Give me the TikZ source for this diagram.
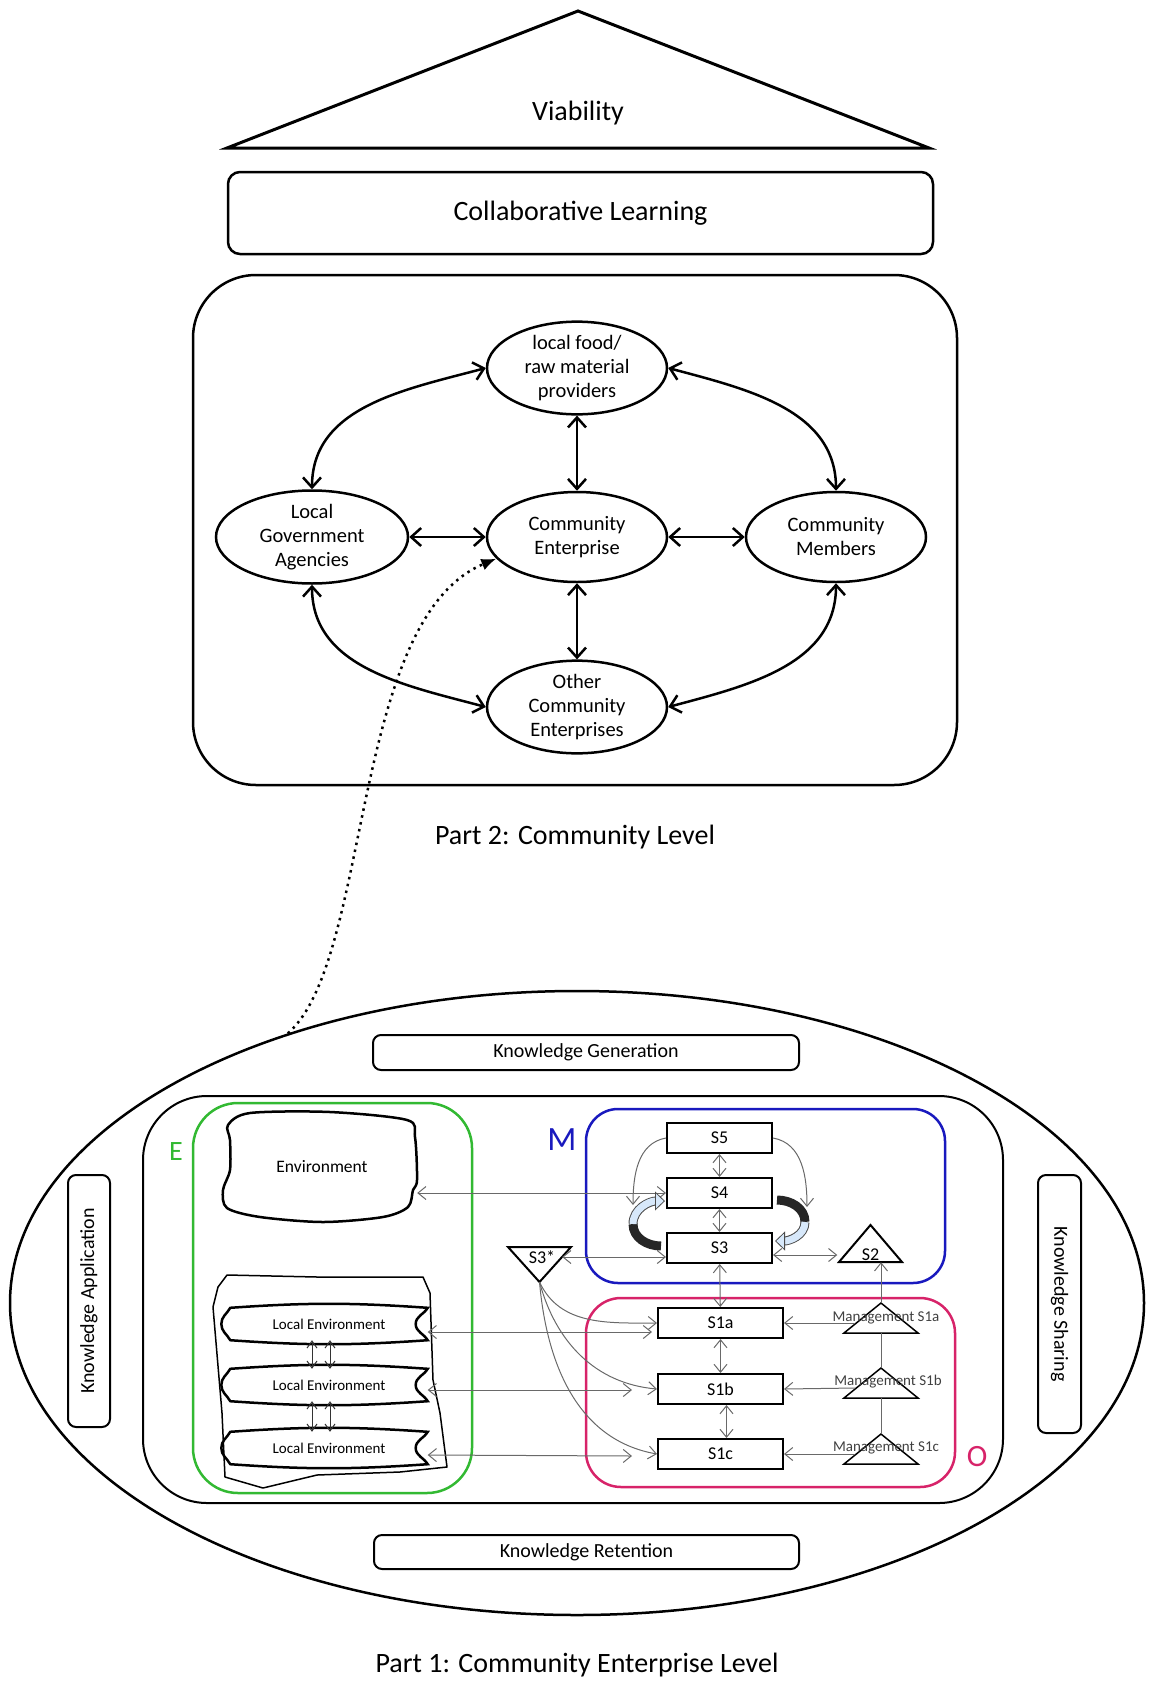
\documentclass[tikz,border=0pt]{standalone}
\usepackage{fontspec}
\setmainfont{Carlito}
\usepackage{tikz}
\usetikzlibrary{arrows.meta}
\usetikzlibrary{calc}
\usetikzlibrary{shapes.geometric}
\usepackage{xcolor}
\definecolor{egreen}{RGB}{50,185,50}
\definecolor{mblue}{RGB}{25,25,190}
\definecolor{opink}{RGB}{215,35,105}
\definecolor{flowblue}{RGB}{215,232,250}
\definecolor{linkgray}{RGB}{105,105,105}

\begin{document}
\begin{tikzpicture}[x=1pt,y=1pt,
    bigtext/.style={font=\fontsize{28}{34}\selectfont},
    party/.style={ellipse,draw,line width=2.5pt,minimum width=180pt,minimum height=90pt,
      inner sep=0pt,align=center,font=\fontsize{20.5}{24}\selectfont},
    twoway/.style={line width=2.5pt,{Straight Barb[length=10pt,width=18pt]}-{Straight Barb[length=10pt,width=18pt]}},
    kbox/.style={draw,rounded corners=8pt,line width=2pt,inner sep=0pt,font=\fontsize{20}{24}\selectfont},
    sbox/.style={draw,line width=2pt,minimum width=105pt,minimum height=30pt,inner sep=0pt,
      font=\fontsize{18}{20}\selectfont},
    mgmt/.style={inner sep=0pt,text=black!75,font=\fontsize{15}{18}\selectfont},
    twothin/.style={linkgray,line width=1pt,{Straight Barb[length=8pt,width=13pt]}-{Straight Barb[length=8pt,width=13pt]}},
    flowto/.style={linkgray,line width=1pt,-{Straight Barb[length=8pt,width=13pt]}},
    small/.style={black!80,line width=1pt,{Straight Barb[length=7pt,width=10pt]}-{Straight Barb[length=7pt,width=10pt]}},
    swirlhead/.style={line width=7pt,flowblue,
      -{Triangle[length=10pt,width=19pt,line width=0.8pt,color=black!70,fill=flowblue]}}]

    \useasboundingbox (0,0) rectangle (1149,-1686);

    % Roof and learning bar
    \draw[line width=3pt] (227,-148) -- (578,-11) -- (929,-148) -- cycle;
    \node[bigtext] (viab) at (578,-113) {Viability};
    \node[kbox,bigtext,rounded corners=12pt,line width=2.5pt,minimum width=705pt,minimum height=82pt]
      (collab) at (580.5,-213) {Collaborative Learning};

    % Part 2: community level
    \draw[line width=2.5pt,rounded corners=63pt] (193,-275) rectangle (957,-785);
    \node[party] (food) at (577,-368) {local food/\\raw material\\providers};
    \node[party,minimum width=192pt] (gov) at (312,-537) {Local\\Government\\Agencies};
    \node[party] (ce) at (577,-537) {Community\\Enterprise};
    \node[party] (mem) at (836,-537) {Community\\Members};
    \node[party] (oce) at (577,-707) {Other\\Community\\Enterprises};

    \draw[twoway] (gov) -- (ce);
    \draw[twoway] (ce) -- (mem);
    \draw[twoway] (food) -- (ce);
    \draw[twoway] (ce) -- (oce);
    \draw[twoway] (food.west) to[out=195,in=90] (gov.north);
    \draw[twoway] (food.east) to[out=-15,in=90] (mem.north);
    \draw[twoway] (gov.south) to[out=-90,in=165] (oce.west);
    \draw[twoway] (mem.south) to[out=-90,in=15] (oce.east);

    \node[bigtext] (part2) at (575,-837) {Part 2: Community Level};

    % Part 1: community enterprise level
    \node[draw,ellipse,line width=2.5pt,minimum width=1134pt,minimum height=624pt] (cel) at (577,-1303) {};
    \draw[line width=2pt,rounded corners=64pt] (143,-1096) rectangle (1003,-1503);
    \node[kbox,minimum width=426pt,minimum height=35pt] (kgen) at (586,-1052.5) {Knowledge Generation};
    \node[kbox,minimum width=425pt,minimum height=34pt] (kret) at (586.5,-1552) {Knowledge Retention};
    \node[kbox,rotate=90,minimum width=252pt,minimum height=42pt] (kapp) at (89,-1301) {Knowledge Application};
    \node[kbox,rotate=-90,minimum width=258pt,minimum height=43pt] (kshare) at (1059.5,-1304) {Knowledge Sharing};

    \draw[line width=2.5pt,dash pattern=on 2.5pt off 4.5pt,-{Latex[length=15pt,width=12pt]}]
      (cel.137) .. controls (372,-960) and (350,-620) .. (ce.195);

    % E: environment
    \draw[egreen,line width=2.5pt,rounded corners=45pt] (193,-1103) rectangle (472,-1493);
    \node[egreen,font=\fontsize{28}{30}\selectfont] (elab) at (176,-1152) {E};
    \node[minimum width=190pt,minimum height=105pt,font=\fontsize{17.5}{20}\selectfont] (env) at (322,-1167) {Environment};
    \draw[line width=2.5pt] plot[smooth cycle,tension=0.5] coordinates {(228,-1125) (250,-1113) (330,-1112)
      (407,-1120) (415,-1137) (417,-1180) (413,-1190) (408,-1207) (383,-1217) (323,-1222) (260,-1217)
      (227,-1208) (223,-1190) (230,-1170) (230,-1140)};
    \draw[line width=1.5pt,line join=round] (218,-1287) -- (227,-1275) -- (317,-1277) -- (423,-1277)
      -- (430,-1293) -- (433,-1380) -- (440,-1413) -- (447,-1467) -- (400,-1472) -- (317,-1475)
      -- (263,-1488) -- (225,-1477) -- (222,-1413) -- (213,-1307) -- cycle;
    \foreach \n/\y in {1/1324,2/1385,3/1448}{
      \node[minimum width=197pt,minimum height=32pt,inner sep=0pt,font=\fontsize{15}{18}\selectfont]
        (loc\n) at (329,-\y) {Local Environment};
      \draw[line width=2.5pt] (loc\n.north west) to[bend left=4] (loc\n.north east)
        to[out=-120,in=90] ([xshift=-12pt]loc\n.east) to[out=-90,in=120] (loc\n.south east)
        to[bend left=4] (loc\n.south west)
        to[out=120,in=-90] ([xshift=-9pt]loc\n.west) to[out=90,in=-120] (loc\n.north west) -- cycle;
    }
    \foreach \a/\b in {loc1/loc2,loc2/loc3}{
      \draw[small] ([xshift=-17pt]\a.south) -- ([xshift=-17pt]\b.north);
      \draw[small] ([xshift=1pt]\a.south) -- ([xshift=1pt]\b.north);
    }

    % M: metasystem
    \draw[mblue,line width=2.5pt,rounded corners=32pt] (586,-1109) rectangle (945,-1283);
    \node[mblue,font=\fontsize{34}{36}\selectfont] (mlab) at (562,-1140) {M};
    \node[sbox] (s5) at (719.5,-1138) {S5};
    \node[sbox] (s4) at (719.5,-1193) {S4};
    \node[sbox] (s3) at (719.5,-1248) {S3};

    \draw[line width=2pt] (839,-1262) -- (870.5,-1225) -- (902,-1262) -- cycle;
    \node[inner sep=0pt,minimum width=66pt,minimum height=14pt,font=\fontsize{18}{20}\selectfont] (s2) at (870.5,-1255) {S2};
    \draw[line width=2pt] (508,-1247) -- (571,-1247) -- (539.5,-1282) -- cycle;
    \node[inner sep=0pt,minimum width=40pt,minimum height=14pt,font=\fontsize{18}{20}\selectfont] (s3star) at (542,-1257) {S3*};
    \coordinate (s3tip) at (539.5,-1282);

    % O: operations
    \draw[opink,line width=2.5pt,rounded corners=35pt] (586,-1298) rectangle (955,-1487);
    \node[opink,font=\fontsize{31}{34}\selectfont] (olab) at (977,-1457) {O};
    \node[sbox,minimum width=125pt] (s1a) at (720.5,-1323) {S1a};
    \node[sbox,minimum width=125pt] (s1b) at (720.5,-1389) {S1b};
    \node[sbox,minimum width=125pt] (s1c) at (720.5,-1454) {S1c};

    \foreach \n/\y in {a/1303,b/1368,c/1434}{
      \draw[line width=1.5pt] (881,-\y) -- ++(37,-30) -- ++(-74,0) -- cycle;
      \coordinate (top\n) at (881,-\y);
      \coordinate (base\n) at (881,-\y-30);
      \coordinate (edge\n) at (855,-\y-20);
    }
    \node[mgmt] (mga) at (886,-1318) {Management S1a};
    \node[mgmt] (mgb) at (888,-1382) {Management S1b};
    \node[mgmt] (mgc) at (886,-1448) {Management S1c};

    % Links inside the enterprise
    \draw[twothin] (s5) -- (s4);
    \draw[twothin] (s4) -- (s3);
    \draw[twothin] (s3) -- (s1a);
    \draw[twothin] (s1a) -- (s1b);
    \draw[twothin] ([xshift=6pt]s1b.south) -- ([xshift=6pt]s1c.north);
    \draw[twothin] (s4.west -| env.east) -- (s4.west);
    \draw[twothin] (s3star.east) -- (s3.west |- s3star.east);
    \draw[twothin] (s3.east |- s2.west) -- (s2.west);
    \draw[twothin] ([yshift=-8pt]loc1.east) -- ([xshift=-5pt,yshift=-9pt]s1a.west);
    \draw[twothin] ([yshift=-5pt]loc2.east) -- ([xshift=-25pt,yshift=-1pt]s1b.west);
    \draw[twothin] ([yshift=-7pt]loc3.east) -- ([xshift=-25pt,yshift=-2pt]s1c.west);

    \coordinate (loopl) at (633,-1205);
    \coordinate (loopr) at (807,-1207);
    \draw[flowto] (s5.west) to[out=190,in=90] (loopl);
    \draw[flowto] (s5.east) to[out=-10,in=90] (loopr);

    \draw[flowto] (s3tip) to[out=-65,in=180] (s1a.west);
    \draw[flowto] (s3tip) to[out=-75,in=175] (s1b.west);
    \draw[flowto] (s3tip) to[out=-85,in=170] (s1c.west);

    \draw[flowto] (edgea) -- (s1a.east);
    \draw[flowto] (edgeb) -- (s1b.east);
    \draw[flowto] (edgec) -- (s1c.east);
    \draw[linkgray,line width=1pt] (topc) -- (baseb);
    \draw[linkgray,line width=1pt] (topb) -- (basea);
    \draw[flowto] (topa) -- (topa |- s2.south);

    % S3/S4 swirl arrows
    \coordinate (swl) at (633,-1224);
    \coordinate (swr) at (805,-1222);
    \draw[line width=9pt,black!85] (661,-1246) to[out=180,in=-90] (swl);
    \draw[line width=9pt,black!70,shorten >=9pt] (swl) to[out=90,in=180] (665,-1201);
    \draw[swirlhead] (swl) to[out=90,in=180] (665,-1201);
    \draw[line width=9pt,black!85] (777,-1200) to[out=0,in=90] (swr);
    \draw[line width=9pt,black!70,shorten >=9pt] (swr) to[out=-90,in=0] (775,-1241);
    \draw[swirlhead] (swr) to[out=-90,in=0] (775,-1241);

    \node[bigtext] (part1) at (577,-1665) {Part 1: Community Enterprise Level};

\end{tikzpicture}
\end{document}
